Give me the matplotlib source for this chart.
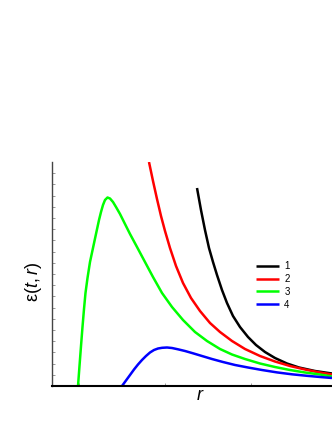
import numpy as np
import matplotlib
matplotlib.use('Agg')
import matplotlib.pyplot as plt

plt.rcParams['font.family'] = ['Liberation Sans', 'DejaVu Sans']
plt.rcParams['mathtext.fontset'] = 'custom'
plt.rcParams['mathtext.rm'] = 'Liberation Sans'
plt.rcParams['mathtext.it'] = 'Liberation Sans:italic'

# curves (r, eps), arbitrary units 0..10
r1 = [5.179, 5.321, 5.464, 5.607, 5.750, 5.893, 6.071, 6.250, 6.464, 6.714,
      7.000, 7.286, 7.607, 7.964, 8.393, 8.821, 9.393, 10.0]
e1 = [8.839, 7.857, 6.964, 6.161, 5.536, 4.955, 4.286, 3.705, 3.125, 2.634,
      2.188, 1.830, 1.518, 1.250, 1.004, 0.826, 0.670, 0.558]

r2 = [3.464, 3.607, 3.750, 3.893, 4.036, 4.214, 4.429, 4.679, 4.964, 5.286,
      5.643, 6.000, 6.429, 6.893, 7.429, 7.964, 8.500, 9.036, 9.571, 10.0]
e2 = [10.0, 9.152, 8.348, 7.589, 6.920, 6.161, 5.357, 4.598, 3.929, 3.348,
      2.813, 2.411, 2.009, 1.652, 1.339, 1.094, 0.893, 0.737, 0.603, 0.513]

r3 = [0.929, 0.982, 1.036, 1.089, 1.143, 1.196, 1.268, 1.357, 1.464, 1.571,
      1.679, 1.750, 1.821, 1.893, 1.982, 2.071, 2.179, 2.286, 2.429, 2.607,
      2.786, 3.036, 3.321, 3.607, 3.929, 4.286, 4.679, 5.107, 5.536, 6.000,
      6.429, 6.893, 7.429, 7.964, 8.500, 9.036, 9.571, 10.0]
e3 = [0.000, 0.893, 1.786, 2.634, 3.438, 4.152, 4.821, 5.536, 6.161, 6.786,
      7.411, 7.768, 8.080, 8.304, 8.415, 8.371, 8.214, 7.991, 7.679, 7.232,
      6.786, 6.205, 5.536, 4.866, 4.152, 3.527, 2.946, 2.411, 2.009, 1.652,
      1.406, 1.205, 1.004, 0.848, 0.714, 0.603, 0.513, 0.424]

r4 = [2.500, 2.643, 2.786, 2.929, 3.071, 3.214, 3.357, 3.500, 3.643, 3.786,
      3.929, 4.107, 4.286, 4.500, 4.750, 5.036, 5.357, 5.714, 6.107, 6.536,
      7.000, 7.500, 8.036, 8.571, 9.107, 9.571, 10.0]
e4 = [0.000, 0.246, 0.491, 0.737, 0.960, 1.161, 1.339, 1.496, 1.607, 1.674,
      1.705, 1.719, 1.696, 1.638, 1.563, 1.460, 1.339, 1.205, 1.071, 0.938,
      0.826, 0.714, 0.607, 0.522, 0.455, 0.402, 0.357]

series = [('1', r1, e1, '#000000'),
          ('2', r2, e2, '#ff0000'),
          ('3', r3, e3, '#00ff00'),
          ('4', r4, e4, '#0000ff')]

fig = plt.figure(figsize=(3.32, 4.30), dpi=100)
ax = fig.add_axes([52 / 332, 44 / 430, 280 / 332, 224 / 430])

for name, r, e, c in series:
    ax.plot(r, e, color=c, lw=1.8, label=name, solid_capstyle='butt',
            solid_joinstyle='round')

ax.set_xlim(0, 10)
ax.set_ylim(0, 10)

ax.spines['top'].set_visible(False)
ax.spines['right'].set_visible(False)
ax.spines['left'].set_color('#444444')
ax.spines['left'].set_linewidth(1.0)
ax.spines['bottom'].set_color('black')
ax.spines['bottom'].set_linewidth(1.5)

ax.set_yticks(np.arange(0.5, 10, 0.5))
ax.set_yticklabels([])
ax.set_xticks([0.96, 4.04, 7.11])
ax.set_xticklabels([])
ax.tick_params(direction='in', length=2, width=0.6, color='#888888')

# axis labels, placed where the reference has them
fig.text(33 / 332, 1 - 282 / 430, r'$\mathrm{\varepsilon}(t,r)$', fontsize=13,
         rotation=90, ha='center', va='center')
fig.text(200 / 332, 1 - 396 / 430, r'$r$', fontsize=13, ha='center', va='center')

ax.legend(loc='upper left', bbox_to_anchor=(256 / 332, 1 - 261 / 430),
          bbox_transform=fig.transFigure, frameon=False, fontsize=7,
          handlelength=2.4, handletextpad=0.5, labelspacing=0.3,
          borderpad=0, borderaxespad=0)

fig.savefig('out.png', dpi=100)
